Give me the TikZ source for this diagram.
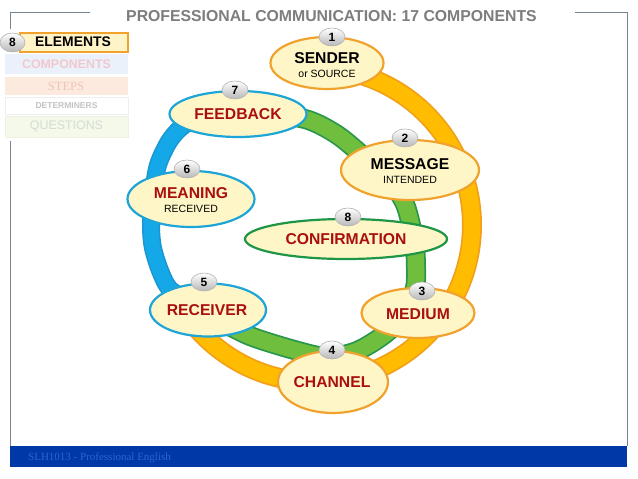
\documentclass[tikz,border=0pt]{standalone}
\usepackage{fontspec}
\setmainfont{Liberation Sans}
\newfontfamily\seriffont{Liberation Serif}
\usetikzlibrary{shapes.geometric}
\definecolor{cream}{RGB}{255,246,200}
\definecolor{obord}{RGB}{240,162,45}
\definecolor{bbord}{RGB}{30,165,215}
\definecolor{gbord}{RGB}{30,150,70}
\definecolor{lblred}{RGB}{170,15,15}
\definecolor{ringO}{RGB}{255,188,0}
\definecolor{ringOe}{RGB}{242,160,25}
\definecolor{ringG}{RGB}{112,190,62}
\definecolor{ringGe}{RGB}{40,150,75}
\definecolor{ringB}{RGB}{20,168,232}
\definecolor{ringBe}{RGB}{25,150,210}
\definecolor{framec}{RGB}{118,134,145}
\definecolor{footblue}{RGB}{0,56,168}
\definecolor{foottext}{RGB}{45,100,210}
\definecolor{titlegray}{RGB}{125,125,125}
\begin{document}
\begin{tikzpicture}[x=1pt,y=-1pt,
  bubble/.style={ellipse, fill=cream, line width=2.2pt, inner sep=0pt},
  ob/.style={bubble, draw=obord},
  bb/.style={bubble, draw=bbord},
  gb/.style={bubble, draw=gbord},
  badge/.style={ellipse, minimum width=26pt, minimum height=18pt, inner sep=0pt,
    top color=white, bottom color=black!28, draw=black!30, line width=0.6pt,
    font=\fontsize{12}{12}\selectfont\bfseries},
  big/.style={font=\fontsize{15.7}{16}\selectfont\bfseries, inner sep=0pt},
  bigred/.style={big, text=lblred},
  small/.style={font=\fontsize{10.5}{11}\selectfont, inner sep=0pt},
  menubox/.style={rectangle, minimum width=123pt, minimum height=20pt, inner sep=0pt},
  frameline/.style={draw=framec, line width=1pt},
]
\useasboundingbox (0,0) rectangle (638,479);
\fill[white] (0,0) rectangle (638,479);

% frame
\draw[frameline] (90,12) -- (10,12) -- (10,446);
\draw[frameline] (575,12) -- (627,12) -- (627,446);

% footer
\node[rectangle, fill=footblue, minimum width=617pt, minimum height=21pt, inner sep=0pt, anchor=north west] (footer) at (10,446) {};
\node[anchor=west, inner sep=0pt, text=foottext, font=\seriffont\fontsize{11}{11}\selectfont, text height=7pt, text depth=0pt] (foottxt) at (28,457) {SLH1013 - Professional English};

% title
\node[font=\fontsize{15.8}{16}\selectfont\bfseries, text=titlegray, inner sep=0pt] (title) at (331.5,16.5) {PROFESSIONAL COMMUNICATION: 17 COMPONENTS};

% menu
\fill[white] (3,29) rectangle (131,141);
\node[menubox, fill={rgb,255:red,234;green,241;blue,250}, text={rgb,255:red,242;green,200;blue,205}, font=\fontsize{12.4}{12}\selectfont\bfseries] (mcomp) at (66.5,64) {COMPONENTS};
\node[menubox, minimum height=18pt, fill={rgb,255:red,252;green,234;blue,222}, text={rgb,255:red,240;green,195;blue,185}, font=\seriffont\fontsize{12.5}{12}\selectfont] (msteps) at (66,86) {STEPS};
\node[menubox, minimum height=17pt, fill=white, draw={rgb,255:red,238;green,238;blue,238}, text={rgb,255:red,195;green,195;blue,195}, font=\fontsize{8.5}{9}\selectfont\bfseries] (mdet) at (66.5,105.5) {DETERMINERS};
\node[menubox, minimum height=21pt, fill={rgb,255:red,244;green,249;blue,234}, draw={rgb,255:red,236;green,242;blue,226}, text={rgb,255:red,212;green,220;blue,212}, font=\fontsize{12.4}{12}\selectfont] (mquest) at (66.5,126.5) {QUESTIONS};
\node[rectangle, minimum width=108pt, minimum height=19pt, inner sep=0pt, fill={rgb,255:red,255;green,243;blue,200}, draw=obord, line width=2pt] (melem) at (73.5,42) {};
\node[font=\fontsize{13.9}{14}\selectfont\bfseries, inner sep=0pt] (meltxt) at (73,42) {ELEMENTS};
\node[badge, minimum width=25pt, minimum height=19pt] (b8m) at (12.5,42.5) {8};

% orange outer ring
\draw[ringOe, line width=20pt] plot[domain=96:-141, samples=120] ({315+157*cos(\x)},{225-157*sin(\x)});
\draw[ringO, line width=16.5pt] plot[domain=96:-141, samples=120] ({315+157*cos(\x)},{225-157*sin(\x)});

% green inner ring
\def\greenpath{plot[smooth] coordinates {(255,112) (305,119) (336,134) (362,155) (388,178) (404,202) (411,225) (415,248) (416,268) (415,288) (405,313) (385,334) (357,351) (328,357) (298,351) (250,336) (215,318)}}
\draw[ringGe, line width=20pt] \greenpath;
\draw[ringG, line width=16.5pt] \greenpath;

% blue inner ring
\def\bluepath{plot[smooth] coordinates {(205,308) (172,291) (161,273) (153,248) (151,225) (153,195) (158,165) (170,140) (186,124) (215,112) (255,110)}}
\draw[ringBe, line width=18pt] \bluepath;
\draw[ringB, line width=15pt] \bluepath;

% bubbles
\node[ob, minimum width=113pt, minimum height=52pt] (sender) at (327,63) {};
\node[ob, minimum width=138pt, minimum height=60pt] (message) at (410,170) {};
\node[bb, minimum width=137pt, minimum height=46pt] (feedback) at (238,114) {};
\node[bb, minimum width=127pt, minimum height=56pt] (meaning) at (191,199) {};
\node[gb, minimum width=202pt, minimum height=40pt] (confirm) at (346,239) {};
\node[bb, minimum width=116pt, minimum height=53pt] (receiver) at (208,310) {};
\node[ob, minimum width=113pt, minimum height=50pt] (medium) at (418,313) {};
\node[ob, minimum width=110pt, minimum height=62pt] (channel) at (333,382) {};

% labels
\node[big] (tsender) at (327,58) {SENDER};
\node[small] (tsource) at (327,74) {or SOURCE};
\node[big] (tmessage) at (410,164.5) {MESSAGE};
\node[small] (tintended) at (410,180) {INTENDED};
\node[bigred] (tfeedback) at (238,114) {FEEDBACK};
\node[bigred] (tmeaning) at (191,193) {MEANING};
\node[small] (treceived) at (191,209) {RECEIVED};
\node[bigred] (tconfirm) at (346,239) {CONFIRMATION};
\node[bigred] (treceiver) at (207,310) {RECEIVER};
\node[bigred] (tmedium) at (418,314) {MEDIUM};
\node[bigred] (tchannel) at (332,382) {CHANNEL};

% badges
\node[badge] (b1) at (332,37) {1};
\node[badge] (b2) at (405,138) {2};
\node[badge] (b3) at (422,291) {3};
\node[badge] (b4) at (332,350) {4};
\node[badge] (b5) at (204,282) {5};
\node[badge] (b6) at (187,169) {6};
\node[badge] (b7) at (235,90) {7};
\node[badge] (b8) at (348,217) {8};
\end{tikzpicture}
\end{document}
